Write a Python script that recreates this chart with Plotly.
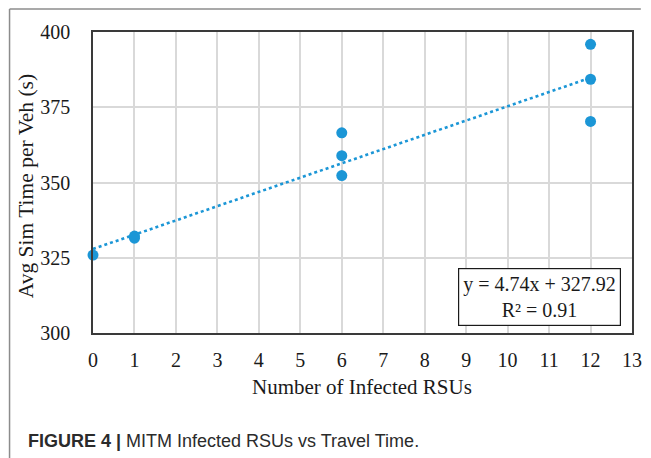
import plotly.graph_objects as go

# Data
x_vals = [0, 1, 1, 6, 6, 6, 12, 12, 12]
y_vals = [325.9, 331.5, 332.2, 366.5, 358.9, 352.3, 395.9, 384.3, 370.3]
slope = 4.74
intercept = 327.92
r2 = 0.91
trend_x = [0, 12]
trend_y = [intercept + slope * v for v in trend_x]
x_ticks = list(range(0, 14))
y_ticks = [300, 325, 350, 375, 400]

W, H = 651, 458
L, R, T, B = 93, 9, 32, 125
pw = W - L - R
ph = H - T - B

def px(xp):
    return (xp - L) / pw

def py(yp):
    return (H - B - yp) / ph

blue = "#1b96d6"
serif = "Liberation Serif, Times New Roman, serif"
sans = "Liberation Sans, Arial, sans-serif"

fig = go.Figure()
fig.add_trace(go.Scatter(x=trend_x, y=trend_y, mode="lines",
                         line=dict(color=blue, width=2.6, dash="dot"),
                         hoverinfo="skip", showlegend=False))
fig.add_trace(go.Scatter(x=x_vals, y=y_vals, mode="markers",
                         marker=dict(color=blue, size=11),
                         cliponaxis=False, showlegend=False))

axis_common = dict(showgrid=True, gridcolor="#d9d9d9", gridwidth=1.5,
                   showline=True, linecolor="#3a3a3a", linewidth=1.5, mirror=True,
                   zeroline=False, ticks="outside", tickcolor="rgba(0,0,0,0)",
                   tickfont=dict(family=serif, size=20, color="#1a1a1a"))

fig.update_xaxes(range=[0, 13], tickvals=x_ticks, ticklen=8, **axis_common)
fig.update_yaxes(range=[300, 400], tickvals=y_ticks, ticklen=17, **axis_common)

annotations = [
    dict(text="Number of Infected RSUs", x=px(367), y=py(387), xref="paper", yref="paper",
         showarrow=False, font=dict(family=serif, size=21, color="#1a1a1a"),
         xanchor="center", yanchor="middle"),
    dict(text="Avg Sim Time per Veh (s)", x=px(25), y=py(186), xref="paper", yref="paper",
         showarrow=False, textangle=-90, font=dict(family=serif, size=21.5, color="#1a1a1a"),
         xanchor="center", yanchor="middle"),
    dict(text=f"y = {slope:.2f}x + {intercept:.2f}<br>R² = {r2:.2f}",
         x=px(631), y=py(326), xref="paper", yref="paper", showarrow=False,
         xanchor="right", yanchor="bottom", align="center",
         font=dict(family=serif, size=20, color="#1a1a1a"),
         bgcolor="white", bordercolor="#1a1a1a", borderwidth=1.2, borderpad=4),
    dict(text="<b>FIGURE 4 |</b> MITM Infected RSUs vs Travel Time.",
         x=px(25), y=py(441), xref="paper", yref="paper", showarrow=False,
         xanchor="left", yanchor="middle",
         font=dict(family=sans, size=18, color="#2b2b2b")),
]

shapes = [
    dict(type="line", xref="paper", yref="paper", x0=px(8), x1=px(651), y0=py(9), y1=py(9),
         line=dict(color="#8c8c8c", width=1.5)),
    dict(type="line", xref="paper", yref="paper", x0=px(8), x1=px(8), y0=py(9), y1=py(458),
         line=dict(color="#8c8c8c", width=1.5)),
]

fig.update_layout(width=W, height=H, margin=dict(l=L, r=R, t=T, b=B),
                  plot_bgcolor="white", paper_bgcolor="white",
                  annotations=annotations, shapes=shapes, showlegend=False)

fig.write_html("out.html")
